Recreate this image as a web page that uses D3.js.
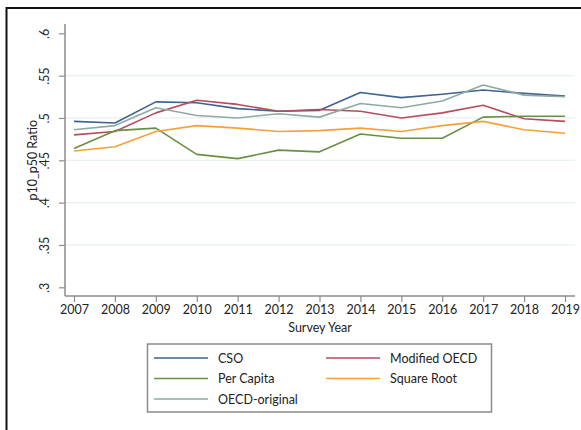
<!DOCTYPE html>
<html>
<head>
<meta charset="utf-8">
<script src="https://cdn.jsdelivr.net/npm/d3@7"></script>
<style>
  html, body { margin: 0; padding: 0; background: #fff; }
  svg { display: block; }
</style>
</head>
<body>
<svg id="chart" width="581" height="430"></svg>
<script>
const years = [2007, 2008, 2009, 2010, 2011, 2012, 2013, 2014, 2015, 2016, 2017, 2018, 2019];
const yTicks = [0.3, 0.35, 0.4, 0.45, 0.5, 0.55, 0.6];
const yTickLabels = [".3", ".35", ".4", ".45", ".5", ".55", ".6"];

const cso        = [0.496, 0.494, 0.519, 0.518, 0.511, 0.508, 0.509, 0.530, 0.524, 0.528, 0.533, 0.529, 0.526];
const modOecd    = [0.480, 0.484, 0.506, 0.521, 0.516, 0.508, 0.510, 0.508, 0.500, 0.506, 0.515, 0.499, 0.496];
const perCapita  = [0.464, 0.485, 0.488, 0.457, 0.452, 0.462, 0.460, 0.481, 0.476, 0.476, 0.501, 0.502, 0.502];
const squareRoot = [0.461, 0.466, 0.484, 0.491, 0.488, 0.484, 0.485, 0.488, 0.484, 0.491, 0.496, 0.486, 0.482];
const oecdOrig   = [0.486, 0.491, 0.512, 0.503, 0.500, 0.505, 0.501, 0.517, 0.512, 0.520, 0.539, 0.527, 0.525];

const series = [
  { name: "CSO", values: cso, color: "#3d6390" },
  { name: "Modified OECD", values: modOecd, color: "#b54d5c" },
  { name: "Per Capita", values: perCapita, color: "#6a8f42" },
  { name: "Square Root", values: squareRoot, color: "#f4a13a" },
  { name: "OECD-original", values: oecdOrig, color: "#8fa9a3" }
];

const FONT = "Lato, 'Open Sans', sans-serif";
const AXIS = "#8c8c8c";
const TEXT = "#222";

const svg = d3.select("#chart");

// outer frame (only top/left visible in the crop)
svg.append("rect")
  .attr("x", 6.5).attr("y", 8)
  .attr("width", 600).attr("height", 440)
  .attr("fill", "none")
  .attr("stroke", "#111")
  .attr("stroke-width", 2);

const x = d3.scaleLinear().domain([2007, 2019]).range([74, 565]);
const y = d3.scaleLinear().domain([0.3, 0.6]).range([287.3, 33.3]);

const plotLeft = 65, plotRight = 575, plotTop = 24, plotBottom = 296;

// grid
svg.append("g")
  .selectAll("line")
  .data(yTicks.filter(d => d > 0.3 && d < 0.6))
  .join("line")
  .attr("x1", plotLeft).attr("x2", plotRight)
  .attr("y1", d => y(d)).attr("y2", d => y(d))
  .attr("stroke", "#e8f0f0")
  .attr("stroke-width", 1.2);

// y axis
const yAxis = svg.append("g")
  .attr("transform", `translate(${plotLeft},0)`)
  .call(d3.axisLeft(y).tickValues(yTicks)
    .tickFormat((d, i) => yTickLabels[i]).tickSize(6).tickSizeOuter(0));
yAxis.select(".domain").remove();
yAxis.append("line")
  .attr("x1", 0).attr("x2", 0).attr("y1", plotTop).attr("y2", plotBottom)
  .attr("stroke", AXIS).attr("stroke-width", 1.5);
yAxis.selectAll(".tick line").attr("stroke", AXIS).attr("stroke-width", 1.2);
yAxis.selectAll(".tick text")
  .attr("x", 0).attr("dy", 0)
  .attr("transform", "translate(-16,0) rotate(-90)")
  .attr("text-anchor", "middle")
  .attr("font-family", FONT)
  .attr("font-size", 12.5)
  .attr("fill", TEXT);

// x axis
const xAxis = svg.append("g")
  .attr("transform", `translate(0,${plotBottom})`)
  .call(d3.axisBottom(x).tickValues(years).tickFormat(d3.format("d")).tickSize(6).tickSizeOuter(0));
xAxis.select(".domain").remove();
xAxis.append("line")
  .attr("x1", plotLeft).attr("x2", plotRight).attr("y1", 0).attr("y2", 0)
  .attr("stroke", AXIS).attr("stroke-width", 1.5);
xAxis.selectAll(".tick line").attr("stroke", AXIS).attr("stroke-width", 1.2);
xAxis.selectAll(".tick text")
  .attr("y", 9)
  .attr("font-family", FONT)
  .attr("font-size", 12.5)
  .attr("fill", TEXT);

// axis titles
svg.append("text")
  .attr("x", (plotLeft + plotRight) / 2)
  .attr("y", 332)
  .attr("text-anchor", "middle")
  .attr("font-family", FONT)
  .attr("font-size", 12.5)
  .attr("fill", TEXT)
  .text("Survey Year");

svg.append("text")
  .attr("transform", `translate(37,${y(0.45)}) rotate(-90)`)
  .attr("text-anchor", "middle")
  .attr("font-family", FONT)
  .attr("font-size", 12.5)
  .attr("fill", TEXT)
  .text("p10_p50 Ratio");

// lines
const line = d3.line()
  .x((d, i) => x(years[i]))
  .y(d => y(d));

series.forEach(s => {
  svg.append("path")
    .datum(s.values)
    .attr("fill", "none")
    .attr("stroke", s.color)
    .attr("stroke-width", 1.6)
    .attr("stroke-linejoin", "round")
    .attr("d", line);
});

// legend
const legend = svg.append("g");
legend.append("rect")
  .attr("x", 147.5).attr("y", 344)
  .attr("width", 344).attr("height", 68)
  .attr("fill", "#fff")
  .attr("stroke", "#8a8a8a")
  .attr("stroke-width", 1.5);

const rowY = [358, 378.5, 399];
const colX = [154, 326];
series.forEach((s, i) => {
  const col = i % 2, row = Math.floor(i / 2);
  const lx = colX[col], ly = rowY[row];
  legend.append("line")
    .attr("x1", lx).attr("x2", lx + 54)
    .attr("y1", ly).attr("y2", ly)
    .attr("stroke", s.color)
    .attr("stroke-width", 1.6);
  legend.append("text")
    .attr("x", lx + 64)
    .attr("y", ly + 4.5)
    .attr("font-family", FONT)
    .attr("font-size", 12.5)
    .attr("fill", TEXT)
    .text(s.name);
});
</script>
</body>
</html>
